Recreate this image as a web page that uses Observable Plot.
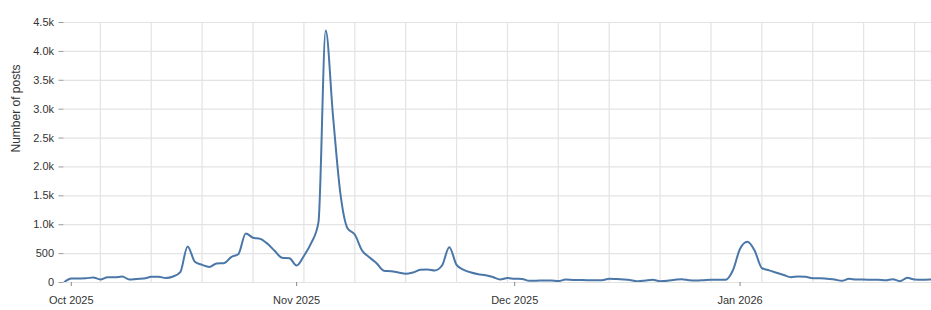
<!DOCTYPE html>
<html>
<head>
<meta charset="utf-8">
<script src="https://cdn.jsdelivr.net/npm/d3@7"></script>
<script src="https://cdn.jsdelivr.net/npm/@observablehq/plot@0.6"></script>
<style>
  html, body { margin: 0; padding: 0; background: #fff; overflow: hidden; }
  #chart svg { display: block; }
</style>
</head>
<body>
<div id="chart"></div>
<script>
// Daily number of posts, starting 2025-09-30
const startDate = "2025-09-30";
const domainEnd = "2026-01-27T08:00:00Z";
const sepCounts = [5];
const octCounts = [68, 70, 72, 88, 52, 92, 90, 104, 52, 62, 68, 98, 100, 78, 104, 180,
  625, 360, 305, 270, 330, 335, 440, 495, 850, 775, 755, 670, 545, 428, 420];
const novCounts = [294, 460, 680, 1040, 4360, 2890, 1560, 940, 830, 555, 438, 334, 205, 196, 173,
  150, 173, 219, 225, 208, 294, 611, 306, 219, 173, 144, 127, 95, 52, 78];
const decCounts = [64, 62, 30, 32, 35, 35, 25, 50, 45, 42, 40, 40, 40, 66, 60, 52, 40, 20,
  35, 46, 23, 30, 46, 58, 40, 35, 40, 46, 46, 46, 208];
const janCounts = [583, 704, 554, 250, 210, 170, 130, 92, 104, 98, 75, 75, 64, 52, 29, 64,
  52, 52, 46, 46, 40, 58, 23, 81, 52, 46, 52, 52];

const yTicks = [0, 500, 1000, 1500, 2000, 2500, 3000, 3500, 4000, 4500];
const yLabel = "Number of posts";

const counts = [...sepCounts, ...octCounts, ...novCounts, ...decCounts, ...janCounts];
const t0 = new Date(startDate + "T00:00:00Z");
const t1 = new Date(domainEnd);
const data = counts.map((v, i) => ({date: d3.utcDay.offset(t0, i), value: v}));
const monthTicks = d3.utcMonth.range(t0, t1);
const weekTicks = d3.utcSunday.range(t0, t1);

const fmtY = d => d === 0 ? "0" : d < 1000 ? String(d) : (d / 1000).toFixed(1) + "k";

const chart = Plot.plot({
  width: 931,
  height: 310,
  marginLeft: 63.5,
  marginRight: 0,
  marginTop: 22,
  marginBottom: 28,
  style: {fontFamily: "'Liberation Sans', Arial, Helvetica, sans-serif", fontSize: "11px", background: "#fff", color: "#333"},
  x: {type: "utc", domain: [t0, t1]},
  y: {domain: [0, 4500]},
  marks: [
    Plot.gridY(yTicks, {stroke: "#e3e3e3", strokeOpacity: 1, strokeWidth: 1.2}),
    Plot.gridX(weekTicks, {stroke: "#e3e3e3", strokeOpacity: 1, strokeWidth: 1.2}),
    Plot.axisY(yTicks, {tickFormat: fmtY, tickSize: 5, tickPadding: 5, stroke: "#999", fill: "#333", label: null}),
    Plot.axisX(monthTicks, {tickFormat: d3.utcFormat("%b %Y"), tickSize: 4, tickPadding: 10, stroke: "#888", fill: "#333", label: null}),
    Plot.text([yLabel], {frameAnchor: "left", rotate: -90, dx: -48, fill: "#333", fontSize: 12}),
    Plot.lineY(data, {x: "date", y: "value", curve: "monotone-x", stroke: "#4a77a8", strokeWidth: 2, clip: true})
  ]
});
document.getElementById("chart").appendChild(chart);
</script>
</body>
</html>
